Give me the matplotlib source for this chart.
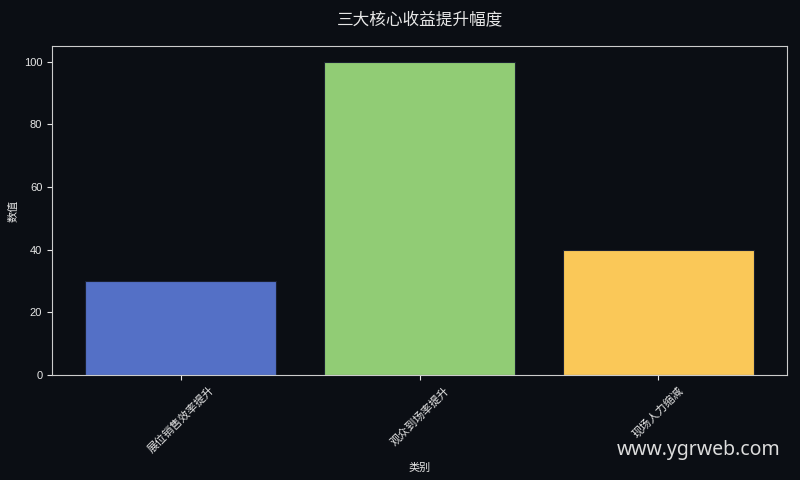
import matplotlib
matplotlib.use("Agg")
import matplotlib.pyplot as plt

plt.rcParams['font.family'] = ['Liberation Sans', 'Noto Sans CJK SC', 'DejaVu Sans']

categories = ["展位销售效率提升", "观众到场率提升", "现场人力缩减"]
values = [30, 100, 40]
colors = ["#5470c6", "#91cc75", "#fac858"]

bg = "#0b0e14"
fg = "#e6e6e6"

fig = plt.figure(figsize=(8, 4.8), dpi=100, facecolor=bg)
ax = fig.add_axes([0.065, 0.219, 0.919, 0.685], facecolor=bg)

ax.bar(categories, values, width=0.8, color=colors, edgecolor="#1a2030", linewidth=0.8)

ax.set_title("三大核心收益提升幅度", color=fg, fontsize=12, pad=16,
             family=['Noto Sans CJK SC', 'DejaVu Sans'])
ax.set_xlabel("类别", color=fg, fontsize=8, labelpad=6)
ax.set_ylabel("数值", color=fg, fontsize=8)
ax.tick_params(colors=fg, labelsize=8)
plt.setp(ax.get_xticklabels(), rotation=45, ha="center")
for s in ax.spines.values():
    s.set_color("#cccccc")

fig.text(0.976, 0.052, "www.ygrweb.com", color="#dddddd", fontsize=14,
         ha="right", va="baseline", family=["Noto Sans"])

fig.savefig("out.png", facecolor=bg)
